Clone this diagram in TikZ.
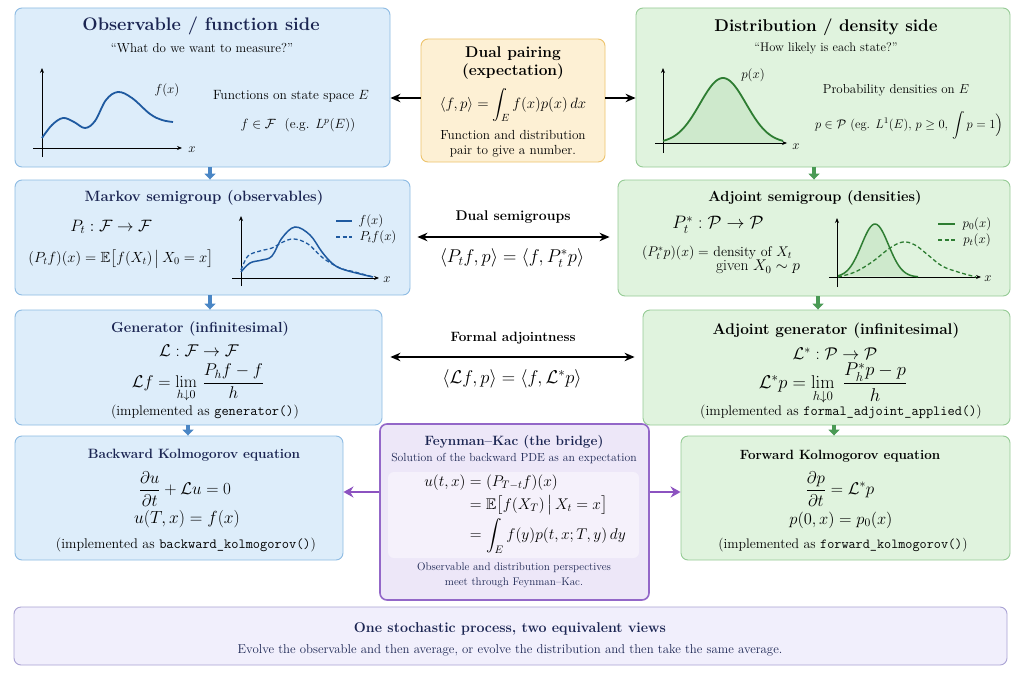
\RequirePackage{fix-cm}
\documentclass[tikz,border=0pt]{standalone}
\usepackage{amsmath,amssymb}
\usetikzlibrary{arrows.meta,calc}
\definecolor{bfill}{HTML}{DDEDFA}
\definecolor{bdraw}{HTML}{8DBBE3}
\definecolor{navy}{HTML}{1B2552}
\definecolor{gfill}{HTML}{E0F3DE}
\definecolor{gdraw}{HTML}{95CB95}
\definecolor{gcurve}{HTML}{2E7D32}
\definecolor{gshade}{HTML}{B9DFB6}
\definecolor{ofill}{HTML}{FDF0D4}
\definecolor{odraw}{HTML}{EDC36C}
\definecolor{pfill}{HTML}{EDE7F8}
\definecolor{pdraw}{HTML}{9367C8}
\definecolor{parrow}{HTML}{8C52C0}
\definecolor{bbfill}{HTML}{F1EFFC}
\definecolor{bbdraw}{HTML}{A9A2D4}
\definecolor{barrow}{HTML}{4A86C5}
\definecolor{garrow}{HTML}{4A9A55}
\definecolor{bcurve}{HTML}{1F5AA0}
\tikzset{
  panel/.style={rounded corners=7pt, line width=0.9pt, inner sep=0pt},
  bluebox/.style={panel, fill=bfill, draw=bdraw},
  greenbox/.style={panel, fill=gfill, draw=gdraw},
  orangebox/.style={panel, fill=ofill, draw=odraw},
  purplebox/.style={panel, fill=pfill, draw=pdraw, line width=1.6pt},
  bottombox/.style={panel, fill=bbfill, draw=bbdraw},
  fs/.style={font=\fontsize{#1}{#1}\selectfont},
  bfs/.style={font=\bfseries\fontsize{#1}{#1}\selectfont},
  blk/.style={line width=1.3pt, -{Stealth[length=10pt,width=8.5pt]}},
  dblk/.style={line width=1.3pt, {Stealth[length=10pt,width=8.5pt]}-{Stealth[length=10pt,width=8.5pt]}},
  bdown/.style={line width=3.5pt, barrow, -{Triangle[length=6pt,width=11pt]}},
  gdown/.style={line width=3.5pt, garrow, -{Triangle[length=6pt,width=11pt]}},
  pside/.style={line width=2.2pt, parrow, -{Stealth[length=10pt,width=11pt]}},
  axis/.style={line width=0.8pt, -{Stealth[length=5pt,width=4pt]}},
  dsh/.style={dash pattern=on 4pt off 2.5pt},
}
\begin{document}
\begin{tikzpicture}[x=1pt,y=-1pt]
\useasboundingbox[fill=white] (0,0) rectangle (1024,682);

% ---------- boxes ----------
\node[bluebox, minimum width=375pt, minimum height=159pt] (obs) at (202.5,87.5) {};
\node[orangebox, minimum width=184pt, minimum height=123pt] (dual) at (513,100.5) {};
\node[greenbox, minimum width=374pt, minimum height=159pt] (dist) at (823,87.5) {};
\node[bluebox, minimum width=395pt, minimum height=115pt] (markov) at (212.5,237.5) {};
\node[greenbox, minimum width=392pt, minimum height=116pt] (adjs) at (814,238) {};
\node[bluebox, minimum width=367pt, minimum height=115pt] (gen) at (198.5,367.5) {};
\node[greenbox, minimum width=367pt, minimum height=115pt] (adjg) at (826.5,367.5) {};
\node[bluebox, minimum width=328pt, minimum height=124pt] (bwd) at (179,498) {};
\node[greenbox, minimum width=329pt, minimum height=124pt] (fwd) at (845.5,498) {};
\node[purplebox, minimum width=269pt, minimum height=176pt] (fk) at (514.5,512) {};
\node[bottombox, minimum width=993pt, minimum height=58pt] (bottom) at (510.5,636) {};
\node[rounded corners=6pt, fill=white, fill opacity=0.45, minimum width=251pt, minimum height=86pt] (fkin) at (513.5,515) {};

% ---------- observable side ----------
\node[bfs=18.2, text=navy] (t1) at (201,26) {Observable / function side};
\node[fs=13] (s1) at (202,48) {``What do we want to measure?''};
\draw[axis] (42,157) -- (42,68);
\draw[axis] (33,148) -- (182,148);
\node[fs=13] (ox) at (192,150) {$x$};
\draw[bcurve, line width=1.8pt] plot[smooth, tension=0.6] coordinates {(42,138) (52,125) (63,118) (74,122) (85,128) (95,121) (106,100) (118,92) (132,98) (150,114) (162,120) (173,122)};
\node[fs=13] (ofx) at (167,90) {$f(x)$};
\node[fs=13.4] (o1) at (291,96) {Functions on state space $E$};
\node[fs=13.4] (o2) at (298,125) {$f\in\mathcal{F}$ \ (e.g. $L^p(E)$)};

% ---------- dual pairing ----------
\node[font=\bfseries\fontsize{15.5}{18}\selectfont, align=center] (dt) at (513,63) {Dual pairing\\(expectation)};
\node[fs=14.9] (df) at (513,105) {$\langle f,p\rangle=\displaystyle\int_E f(x)p(x)\,dx$};
\node[font=\fontsize{13.2}{15}\selectfont, align=center] (dd) at (513,143.5) {Function and distribution\\pair to give a number.};

% ---------- distribution side ----------
\node[bfs=17] (t2) at (826,27) {Distribution / density side};
\node[fs=12.5] (s2) at (826,48) {``How likely is each state?''};
\fill[gshade!70] plot[domain=663:783, samples=60] (\x,{143-65*exp(-((\x-723)/23)^2/2)}) -- (783,143) -- (663,143) -- cycle;
\draw[axis] (663,153) -- (663,68);
\draw[axis] (655,143) -- (787,143);
\node[fs=13] (dx) at (796,147) {$x$};
\draw[gcurve, line width=1.8pt] plot[domain=663:783, samples=60] (\x,{143-65*exp(-((\x-723)/23)^2/2)});
\node[fs=13] (dpx) at (753,75) {$p(x)$};
\node[fs=13] (d1) at (896,90) {Probability densities on $E$};
\node[fs=12.5] (d2) at (909,125) {$p\in\mathcal{P}$ (eg. $L^1(E)$, $p\ge 0$, $\displaystyle\int p=1\Big)$};

% ---------- Markov semigroup ----------
\node[bfs=14.9, text=navy] (mt) at (204,198) {Markov semigroup (observables)};
\node[fs=16.5] (m1) at (111,227) {$P_t:\mathcal{F}\to\mathcal{F}$};
\node[fs=14.7] (m2) at (121,259) {$(P_tf)(x)=\mathbb{E}\big[f(X_t)\,\big|\,X_0=x\big]$};
\draw[axis] (241,286) -- (241,216);
\draw[axis] (232,278) -- (379,278);
\node[fs=13] (mx) at (387,280) {$x$};
\draw[bcurve, line width=1.5pt] plot[smooth, tension=0.6] coordinates {(241,272) (250,263) (262,260) (272,256) (282,238) (295,227) (310,235) (322,252) (333,264) (345,270) (373,277)};
\draw[bcurve, line width=1.3pt, dsh] plot[smooth, tension=0.6] coordinates {(241,270) (248,256) (260,251) (272,248) (283,242) (294,239) (308,244) (323,258) (340,268) (355,272) (373,277)};
\draw[bcurve, line width=1.5pt] (336,221) -- (352,221);
\draw[bcurve, line width=1.3pt, dsh] (336,237) -- (352,237);
\node[fs=13] (ml1) at (371,221) {$f(x)$};
\node[fs=13] (ml2) at (378,237) {$P_tf(x)$};

% ---------- Adjoint semigroup ----------
\node[bfs=14.6] (at) at (815,198) {Adjoint semigroup (densities)};
\node[fs=18] (a1) at (718,225) {$P_t^*:\mathcal{P}\to\mathcal{P}$};
\node[fs=14] (a2) at (717,253) {$(P_t^*p)(x)=$ density of $X_t$};
\node[fs=15.5] (a3) at (758,267) {given $X_0\sim p$};
\fill[gshade!70] plot[domain=838:918, samples=50] (\x,{277-53*exp(-((\x-875)/13.5)^2/2)}) -- (918,277) -- cycle;
\draw[axis] (837,287) -- (837,218);
\draw[axis] (829,277) -- (981,277);
\node[fs=13] (ax) at (988,279) {$x$};
\draw[gcurve, line width=1.5pt] plot[domain=838:918, samples=50] (\x,{277-53*exp(-((\x-875)/13.5)^2/2)});
\draw[gcurve, line width=1.3pt, dsh] plot[smooth, tension=0.6] coordinates {(838,277) (855,272) (872,262) (890,248) (903,242) (915,245) (928,255) (942,266) (958,272) (976,277)};
\draw[gcurve, line width=1.5pt] (938,224) -- (955,224);
\draw[gcurve, line width=1.3pt, dsh] (938,240) -- (955,240);
\node[fs=13] (al1) at (977,224) {$p_0(x)$};
\node[fs=13] (al2) at (977,240) {$p_t(x)$};

% ---------- Generator ----------
\node[bfs=14.5, text=navy] (gt) at (200,329) {Generator (infinitesimal)};
\node[fs=17] (g1) at (199,351) {$\mathcal{L}:\mathcal{F}\to\mathcal{F}$};
\node[fs=17] (g2) at (198,383) {$\mathcal{L}f=\displaystyle\lim_{h\downarrow 0}\,\frac{P_hf-f}{h}$};
\node[fs=14] (g3) at (205,412) {(implemented as \texttt{generator()})};

% ---------- Adjoint generator ----------
\node[bfs=15.4] (agt) at (836,331) {Adjoint generator (infinitesimal)};
\node[fs=17] (ag1) at (835,354) {$\mathcal{L}^*:\mathcal{P}\to\mathcal{P}$};
\node[fs=18.5] (ag2) at (833,384) {$\mathcal{L}^*p=\displaystyle\lim_{h\downarrow 0}\;\frac{P_h^*p-p}{h}$};
\node[fs=14] (ag3) at (841,412) {(implemented as \texttt{formal\_adjoint\_applied()})};

% ---------- Backward ----------
\node[bfs=13.5, text=navy] (bt) at (194,455) {Backward Kolmogorov equation};
\node[fs=17] (b1) at (185,489) {$\displaystyle\frac{\partial u}{\partial t}+\mathcal{L}u=0$};
\node[fs=17.5] (b2) at (187,519) {$u(T,x)=f(x)$};
\node[fs=14] (b3) at (186,545) {(implemented as \texttt{backward\_kolmogorov()})};

% ---------- Forward ----------
\node[bfs=13.4] (ft) at (840,456) {Forward Kolmogorov equation};
\node[fs=17] (f1) at (840,489) {$\displaystyle\frac{\partial p}{\partial t}=\mathcal{L}^*p$};
\node[fs=16.5] (f2) at (841,520) {$p(0,x)=p_0(x)$};
\node[fs=13.8] (f3) at (843,545) {(implemented as \texttt{forward\_kolmogorov()})};

% ---------- Feynman-Kac ----------
\node[bfs=13.5, text=navy] (kt) at (514,442) {Feynman--Kac (the bridge)};
\node[fs=11.7, text=navy] (ks) at (514,459) {Solution of the backward PDE as an expectation};
\node[fs=15.5] (keq) at (525,514) {$\begin{aligned}u(t,x)&=(P_{T-t}f)(x)\\[1pt] &=\mathbb{E}\big[f(X_T)\,\big|\,X_t=x\big]\\[0pt] &=\int_E f(y)p(t,x;T,y)\,dy\end{aligned}$};
\node[font=\fontsize{11.1}{15}\selectfont, text=navy, align=center] (kd) at (514,575.5) {Observable and distribution perspectives\\meet through Feynman--Kac.};

% ---------- bottom ----------
\node[bfs=14.2, text=navy] (bot1) at (510,629) {One stochastic process, two equivalent views};
\node[fs=12.8, text=navy] (bot2) at (510,650) {Evolve the observable and then average, or evolve the distribution and then take the same average.};

% ---------- middle labels ----------
\node[bfs=14] (dsl) at (513,217) {Dual semigroups};
\node[fs=18.5] (dsf) at (512,258) {$\langle P_tf,p\rangle=\langle f,P_t^*p\rangle$};
\node[bfs=13.5] (fal) at (513,338) {Formal adjointness};
\node[fs=18.5] (faf) at (512,379) {$\langle \mathcal{L}f,p\rangle=\langle f,\mathcal{L}^*p\rangle$};

% ---------- connectors ----------
\coordinate (cb1) at (210,0);
\coordinate (cb3) at (188,0);
\coordinate (cg1) at (814,0);
\coordinate (cg2) at (818,0);
\coordinate (cg3) at (834,0);
\coordinate (ydual) at (0,98);
\coordinate (yds) at (0,237);
\coordinate (yfa) at (0,357);
\coordinate (yfk) at (0,492);

\draw[blk] (dual.west |- ydual) -- (obs.east |- ydual);
\draw[blk] (dual.east |- ydual) -- (dist.west |- ydual);
\draw[dblk] ($(markov.east |- yds)+(7,0)$) -- ($(adjs.west |- yds)+(-8,0)$);
\draw[dblk] ($(gen.east |- yfa)+(8,0)$) -- ($(adjg.west |- yfa)+(-8,0)$);

\draw[bdown] (obs.south -| cb1) -- (markov.north -| cb1);
\draw[bdown] (markov.south -| cb1) -- (gen.north -| cb1);
\draw[bdown] (gen.south -| cb3) -- (bwd.north -| cb3);
\draw[gdown] (dist.south -| cg1) -- (adjs.north -| cg1);
\draw[gdown] (adjs.south -| cg2) -- (adjg.north -| cg2);
\draw[gdown] (adjg.south -| cg3) -- (fwd.north -| cg3);

\draw[pside] (fk.west |- yfk) -- (bwd.east |- yfk);
\draw[pside] (fk.east |- yfk) -- (fwd.west |- yfk);
\end{tikzpicture}
\end{document}
